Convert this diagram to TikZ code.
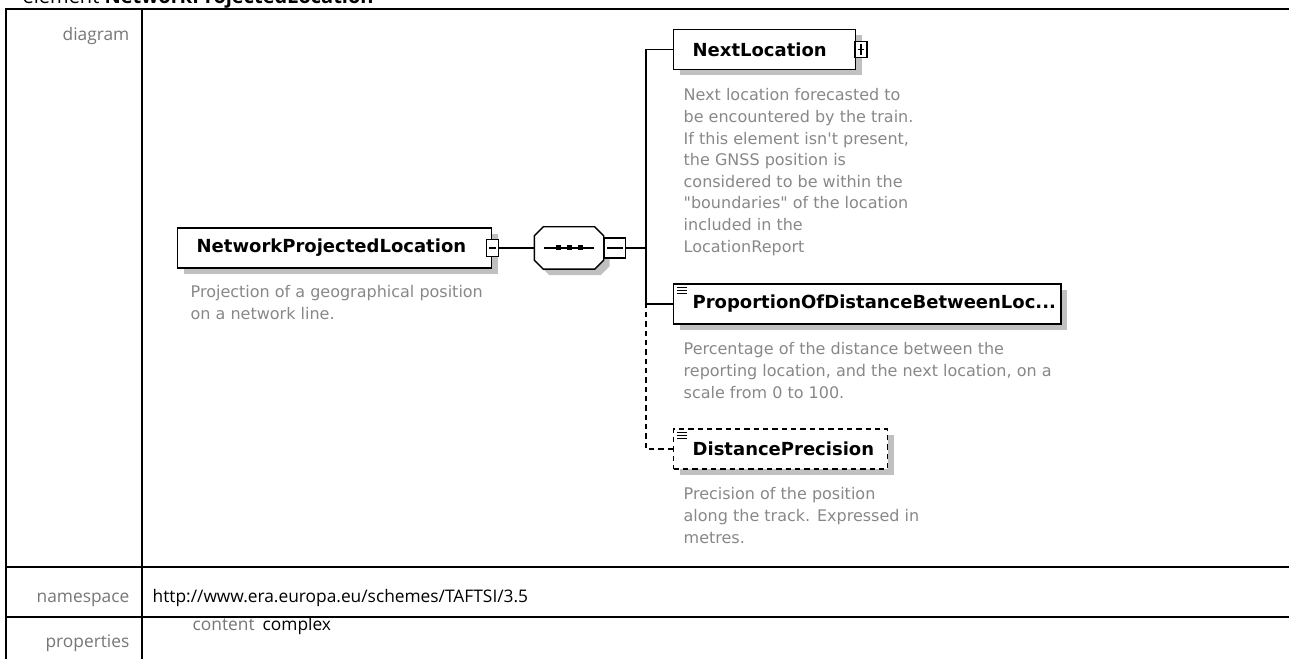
\documentclass[tikz,border=0pt]{standalone}
\usepackage{fontspec}
\setmainfont{Open Sans}
\newfontfamily\diagfont{DejaVu Sans}
\usetikzlibrary{positioning,shadows,calc}
\definecolor{docgray}{RGB}{136,136,136}
\definecolor{labelgray}{RGB}{118,118,118}
\definecolor{shadowgray}{RGB}{192,192,192}
\newcommand{\namefont}{\diagfont\bfseries\fontsize{13.5}{16}\selectfont}
\newcommand{\docfont}{\diagfont\fontsize{12}{16.2}\selectfont}
\newcommand{\cellfont}{\fontsize{13}{16}\selectfont}
% three-bar mark of a simple-typed element, top left of its box
\newcommand{\simplemark}[1]{%
  \foreach \d in {4,7,10}
    \draw[line width=0.7pt] ($(#1.north west)+(4,\d)$) -- ++(10,0);}
% octagon of a sequence compositor, cut 9px at each corner of node #1
\newcommand{\seqpath}[1]{($(#1.north west)+(9,0)$) -- ($(#1.north east)+(-9,0)$)
  -- ($(#1.north east)+(0,9)$) -- ($(#1.south east)+(0,-9)$) -- ($(#1.south east)+(-9,0)$)
  -- ($(#1.south west)+(9,0)$) -- ($(#1.south west)+(0,-9)$) -- ($(#1.north west)+(0,9)$) -- cycle}

\begin{document}
\begin{tikzpicture}[x=0.75pt,y=-0.75pt,line width=1pt,
    boxshadow/.style={general shadow={fill=shadowgray,shadow xshift=4.5pt,shadow yshift=-4.5pt}},
    elem/.style={draw,fill=white,anchor=west,minimum height=30pt,inner xsep=14.25pt,
      align=left,font=\namefont,boxshadow},
    seqbox/.style={minimum width=51pt,minimum height=30.75pt,inner sep=0pt},
    minusbox/.style={draw,fill=white,inner sep=0pt,
      path picture={\draw[line width=0.8pt]
        ([xshift=2pt]path picture bounding box.west) -- ([xshift=-2pt]path picture bounding box.east);}},
    plusbox/.style={draw,fill=white,inner sep=0pt,
      path picture={\draw[line width=0.8pt]
        ([xshift=2pt]path picture bounding box.west) -- ([xshift=-2pt]path picture bounding box.east)
        ([yshift=-2pt]path picture bounding box.north) -- ([yshift=2pt]path picture bounding box.south);}},
    doc/.style={font=\docfont,text=docgray,align=left,inner sep=0pt,anchor=north west},
    cell/.style={font=\cellfont,inner sep=0pt},
    optional/.style={dash pattern=on 4pt off 3pt}]
  \useasboundingbox (0,0) rectangle (1289,659);

  % heading, cut off by the top of the page
  \node[cell,anchor=base west,font=\fontsize{15}{18}\selectfont] (heading) at (22,4)
    {element \textbf{NetworkProjectedLocation}};

  % table grid
  \draw (1295,9) -- (6,9) -- (6,665);
  \draw (142,9) -- (142,665);
  \draw (6,567) -- (1295,567);
  \draw (6,617) -- (1295,617);
  \node[cell,text=labelgray,anchor=base east] (diaglbl) at (130,41) {diagram};
  \node[cell,text=labelgray,anchor=base east] (nslbl) at (130,602) {namespace};
  \node[cell,anchor=base west] (nsval) at (152,602) {http://www.era.europa.eu/schemes/TAFTSI/3.5};
  \node[cell,text=labelgray,anchor=base east] (proplbl) at (130,647) {properties};
  \node[cell,text=labelgray,anchor=base west] (contlbl) at (192,630) {content};
  \node[cell,anchor=base west] (contval) at (262,630) {complex};

  % root element and its sequence
  \node[elem,text width=207pt] (root) at (177,248) {NetworkProjectedLocation};
  \node[minusbox,minimum width=9pt,minimum height=12.75pt] (rootsw) at (root.east) {};
  \node[seqbox] (seq) at (569,248) {};
  \draw[fill=white,boxshadow] \seqpath{seq};
  \node[minusbox,anchor=west,minimum width=15.75pt,minimum height=15pt] (seqsw) at (seq.east) {};
  \draw[line width=0.8pt] ([xshift=-18.75pt]seq.center) -- ([xshift=18.75pt]seq.center);
  \foreach \dx in {-11,0,11}
    \fill ($(seq.center)+(\dx-2.5,-2.5)$) rectangle ++(5,5);
  \node[doc] (rootdoc) at (190,285) {Projection of a geographical position\\on a network line.};

  % children
  \node[elem,text width=108pt] (next) at (673,49.5) {NextLocation};
  \node[plusbox,anchor=west,minimum width=9pt,minimum height=12pt] (nextsw) at ([xshift=-1.5pt]next.east) {};
  \node[doc] (nextdoc) at (683,88) {Next location forecasted to\\be encountered by the train.\\
    If this element isn't present,\\the GNSS position is\\considered to be within the\\
    "boundaries" of the location\\included in the\\LocationReport};

  \node[elem,text width=262pt] (prop) at (673,304) {ProportionOfDistanceBetweenLoc...};
  \simplemark{prop}
  \node[doc] (propdoc) at (683,342) {Percentage of the distance between the\\
    reporting location, and the next location, on a\\scale from 0 to 100.};

  \node[elem,optional,text width=132pt] (dist) at (673,449) {DistancePrecision};
  \simplemark{dist}
  \node[doc] (distdoc) at (683,487) {Precision of the position\\along the track. Expressed in\\metres.};

  % connectors
  \draw (rootsw.east) -- (seq.west);
  \coordinate (bus) at ($(seqsw.east)+(20,0)$);
  \draw (seqsw.east) -- (bus);
  \draw (next.west) -| (bus);
  \draw (prop.west) -| (bus);
  \draw[optional] (dist.west) -| (bus |- prop.west);
\end{tikzpicture}
\end{document}
